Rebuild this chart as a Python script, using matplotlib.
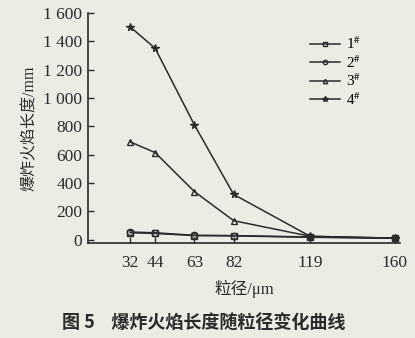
import matplotlib
matplotlib.use('Agg')
import matplotlib.pyplot as plt

plt.rcParams['font.family'] = ['Liberation Serif', 'Noto Sans CJK SC']
plt.rcParams['mathtext.fontset'] = 'stix'

# 粒径 (μm) 与各组爆炸火焰长度 (mm)
particle_size = [32, 44, 63, 82, 119, 160]
flame_1 = [50, 45, 30, 28, 18, 12]
flame_2 = [55, 50, 32, 30, 20, 12]
flame_3 = [690, 615, 340, 135, 25, 12]
flame_4 = [1500, 1350, 810, 320, 25, 12]
labels = ['1', '2', '3', '4']
yticks = [0, 200, 400, 600, 800, 1000, 1200, 1400, 1600]

bg = '#e9ede4'
ink = '#2b2b2b'

fig = plt.figure(figsize=(4.15, 3.38), dpi=100, facecolor=bg)
ax = fig.add_axes([0.212, 0.282, 0.752, 0.68], facecolor=bg)

styles = [('s', flame_1), ('o', flame_2), ('^', flame_3), ('*', flame_4)]
for (m, ys), lab in zip(styles, labels):
    ms = 5.5 if m == '*' else 4.5
    ax.plot(particle_size, ys, color=ink, lw=1.1, marker=m, ms=ms,
            mfc='none' if m != '*' else ink, mec=ink, mew=1.0,
            label=r'%s$^{\#}$' % lab)

ax.set_xlim(11.5, 162.5)
ax.set_ylim(-20, 1600)
ax.set_xticks(particle_size)
ax.set_yticks(yticks)
ax.set_yticklabels(['{:,}'.format(v).replace(',', ' ') for v in yticks])
ax.tick_params(direction='in', length=4, width=1, colors=ink, labelsize=12.5)
ax.tick_params(axis='x', pad=9)
ax.tick_params(axis='y', pad=4)
for s in ['top', 'right']:
    ax.spines[s].set_visible(False)
for s in ['left', 'bottom']:
    ax.spines[s].set_linewidth(1.2)
    ax.spines[s].set_color(ink)

ax.set_ylabel('爆炸火焰长度/mm', fontsize=11.5, color=ink, labelpad=4)
ax.set_xlabel('粒径/μm', fontsize=12, color=ink, labelpad=6)

leg = ax.legend(loc='upper right', bbox_to_anchor=(0.92, 0.96), frameon=False,
                fontsize=11, handlelength=2.0, handletextpad=0.4,
                labelspacing=0.12, markerscale=0.7)

fig.text(0.49, 0.03, '图 5    爆炸火焰长度随粒径变化曲线', ha='center',
         fontsize=13, fontweight='bold', color=ink,
         family=['Noto Sans CJK SC', 'DejaVu Sans'])

fig.savefig('out.png', dpi=100, facecolor=bg)
